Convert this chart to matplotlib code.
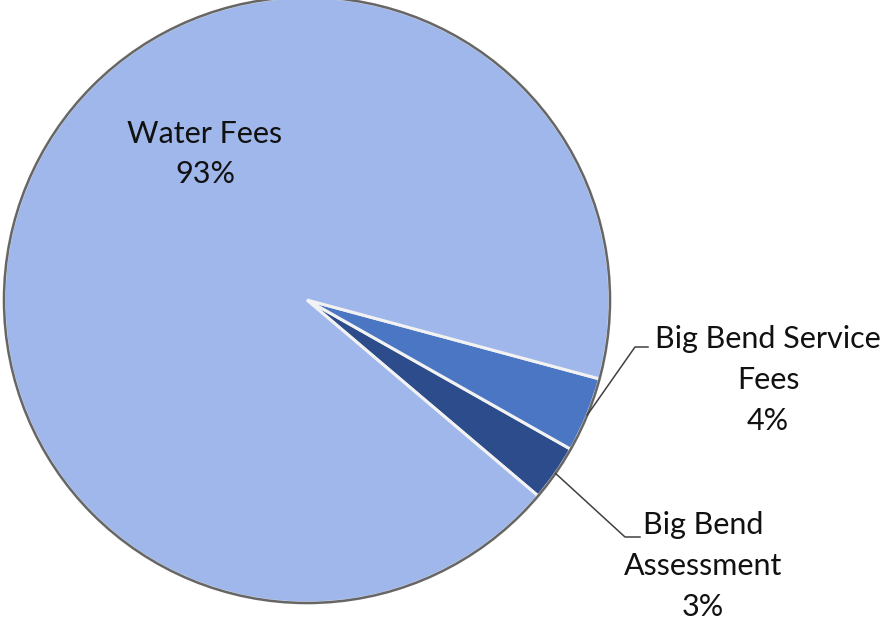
import numpy as np
import matplotlib.pyplot as plt
from matplotlib.patches import Circle

# data (drawn counterclockwise starting at the lower-right)
labels = ['Big Bend\nAssessment', 'Big Bend Service\nFees', 'Water Fees']
shares = [3, 4, 93]
colors = ['#2c4c8c', '#4a76c4', '#9fb7ea']

W, H = 892, 629
CX, CY, R = 307, H - 300, 303
START = -40.3

fig = plt.figure(figsize=(W / 100, H / 100), dpi=100)
ax = fig.add_axes([0, 0, 1, 1])

wedges, _ = ax.pie(shares, colors=colors, startangle=START, counterclock=True,
                   center=(CX, CY), radius=R, frame=True,
                   wedgeprops=dict(edgecolor='#f2f2f2', linewidth=2.2))
ax.set_xlim(0, W)
ax.set_ylim(0, H)
ax.set_aspect('equal')
ax.axis('off')

# outer rim
ax.add_patch(Circle((CX, CY), R, fill=False, edgecolor='#666666', linewidth=1.8, zorder=5))

font = ['Lato', 'DejaVu Sans']
fs = 22
ls = 1.55

# Water Fees label inside
ax.text(205, H - 154, 'Water Fees\n93%', ha='center', va='center',
        fontsize=fs, family=font, color='#111111', linespacing=ls)

# outside labels with leader lines
outer = {1: ((768, H - 380), (635, H - 347), (648, H - 347)),
         0: ((703, H - 566), (625, H - 537), (640, H - 537))}
pct = {0: '3%', 1: '4%'}
for i, (txt_xy, bend, end) in outer.items():
    w = wedges[i]
    mid = np.deg2rad((w.theta1 + w.theta2) / 2)
    sx, sy = CX + R * np.cos(mid), CY + R * np.sin(mid)
    ax.plot([sx, bend[0], end[0]], [sy, bend[1], end[1]], color='#404040', lw=1.1, zorder=6)
    ax.text(txt_xy[0], txt_xy[1], labels[i] + '\n' + pct[i], ha='center', va='center',
            fontsize=fs, family=font, color='#111111', linespacing=ls)

fig.savefig('out.png', dpi=100, facecolor='white')
